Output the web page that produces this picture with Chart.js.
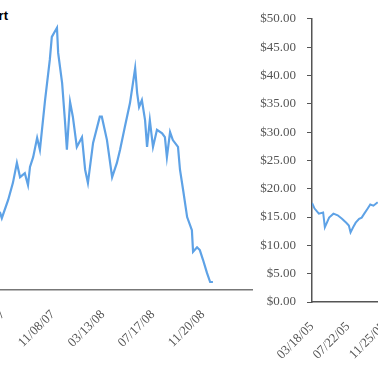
<!DOCTYPE html>
<html>
<head>
<meta charset="utf-8">
<script src="https://cdn.jsdelivr.net/npm/chart.js@4"></script>
<style>
  html, body { margin: 0; padding: 0; background: #fff; }
  body { width: 378px; height: 378px; position: relative; overflow: hidden; }
  #leftWrap { position: absolute; left: -60px; top: 0; width: 313px; height: 378px; }
  #rightWrap { position: absolute; left: 240px; top: 0; width: 200px; height: 378px; }
  #title { position: absolute; right: 370px; top: 8px; font: bold 13px "Liberation Sans", Arial, sans-serif; color: #000; white-space: nowrap; }
</style>
</head>
<body>
<div id="title">Chart</div>
<div id="leftWrap"><canvas id="left" width="313" height="378"></canvas></div>
<div id="rightWrap"><canvas id="right" width="200" height="378"></canvas></div>
<script>
// ---- Left chart data (days since 07/05/07, price) ----
const leftDays = [-8, -3, 13, 25, 35, 43, 55, 63, 68, 76, 86, 93, 106, 118, 123, 136, 139, 149, 156, 161, 169, 176, 186, 199, 207, 214, 227, 244, 249, 262, 275, 287, 295, 307, 320, 333, 338, 343, 350, 358, 363, 370, 378, 388, 401, 408, 413, 421, 428, 441, 446, 454, 464, 476, 479, 489, 496, 504, 514, 522, 529];
const leftPrices = [13.7, 12.6, 15.8, 18.8, 22.3, 19.8, 20.5, 18.4, 21.6, 23.3, 26.7, 24.6, 33.3, 40.4, 44.4, 46.0, 41.6, 36.3, 29.8, 24.6, 33.0, 30.4, 25.1, 26.8, 21.1, 18.8, 25.8, 30.4, 30.4, 26.3, 19.8, 22.3, 24.6, 28.6, 32.8, 38.9, 34.6, 32.1, 33.3, 29.8, 25.1, 29.8, 25.1, 28.1, 27.5, 26.8, 23.3, 27.7, 26.3, 25.1, 21.1, 17.5, 12.8, 10.5, 6.7, 7.5, 7.0, 5.3, 3.0, 1.4, 1.4];
const leftTickDays = [0, 126, 252, 378, 504];
const leftTickLabels = ["07/05/07", "11/08/07", "03/13/08", "07/17/08", "11/20/08"];

// ---- Right chart data (days since 03/18/05, price) ----
const rightDays = [0, 9, 24, 39, 45, 60, 75, 90, 105, 120, 129, 135, 144, 153, 165, 174, 183, 195, 204, 215, 230];
const rightPrices = [17.5, 16.5, 15.6, 15.8, 13.2, 14.9, 15.6, 15.3, 14.7, 14.0, 13.5, 12.3, 13.2, 14.0, 14.7, 14.9, 15.6, 16.5, 17.2, 17.0, 17.6];
const rightTickDays = [0, 126, 252, 378];
const rightTickLabels = ["03/18/05", "07/22/05", "11/25/05", "03/31/06"];
const rightYTicks = [0, 5, 10, 15, 20, 25, 30, 35, 40, 45, 50];

const lineColor = '#5ea2e6';
const labelFont = { family: '"Liberation Serif", "Times New Roman", serif', size: 13 };
const labelColor = '#555';

function toPoints(xs, ys) { return xs.map((x, i) => ({ x: x, y: ys[i] })); }

new Chart(document.getElementById('left'), {
  type: 'line',
  data: { datasets: [{ data: toPoints(leftDays, leftPrices), borderColor: lineColor, borderWidth: 2.2, pointRadius: 0, tension: 0, fill: false }] },
  options: {
    responsive: false, animation: false,
    layout: { padding: { top: 5, left: 0, right: 0, bottom: 0 } },
    plugins: { legend: { display: false }, tooltip: { enabled: false } },
    scales: {
      x: {
        type: 'linear', min: -12.6, max: 630,
        afterBuildTicks: s => { s.ticks = leftTickDays.map(v => ({ value: v })); },
        afterFit: s => { s.height = 88; },
        grid: { display: false },
        border: { display: true, color: '#777', width: 1.5 },
        ticks: { minRotation: 45, maxRotation: 45, padding: 9, font: labelFont, color: labelColor,
          callback: (v) => { const i = leftTickDays.indexOf(v); return i >= 0 ? leftTickLabels[i] : ''; } }
      },
      y: {
        min: 0, max: 50,
        afterFit: s => { s.width = 58; },
        grid: { display: false }, border: { display: false },
        ticks: { display: false }
      }
    }
  }
});

new Chart(document.getElementById('right'), {
  type: 'line',
  data: { datasets: [{ data: toPoints(rightDays, rightPrices), borderColor: lineColor, borderWidth: 2, pointRadius: 0, tension: 0, fill: false }] },
  options: {
    responsive: false, animation: false,
    layout: { padding: { top: 17, left: 0, right: 0, bottom: 0 } },
    plugins: { legend: { display: false }, tooltip: { enabled: false } },
    scales: {
      x: {
        type: 'linear', min: 0, max: 384,
        afterBuildTicks: s => { s.ticks = rightTickDays.map(v => ({ value: v })); },
        afterFit: s => { s.height = 76; },
        grid: { display: false },
        border: { display: true, color: '#555', width: 1.5 },
        ticks: { minRotation: 45, maxRotation: 45, padding: 9, font: labelFont, color: labelColor,
          callback: (v) => { const i = rightTickDays.indexOf(v); return i >= 0 ? rightTickLabels[i] : ''; } }
      },
      y: {
        min: 0, max: 50,
        afterBuildTicks: s => { s.ticks = rightYTicks.map(v => ({ value: v })); },
        afterFit: s => { s.width = 72; },
        grid: { display: true, drawOnChartArea: false, drawTicks: true, tickLength: 5, color: '#555' },
        border: { display: true, color: '#555', width: 1.5 },
        ticks: { padding: 11, font: labelFont, color: labelColor,
          callback: v => '$' + Number(v).toFixed(2) }
      }
    }
  }
});
</script>
</body>
</html>
